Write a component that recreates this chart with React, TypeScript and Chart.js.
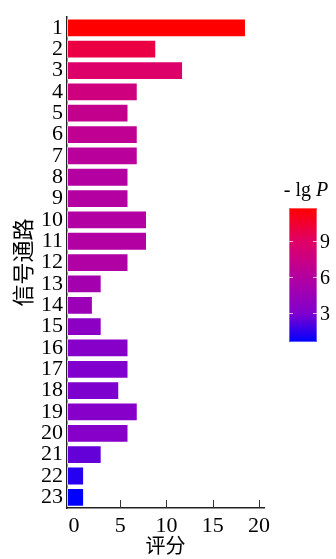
import React, { useEffect, useRef } from "react";
import { Chart, registerables } from "chart.js";

Chart.register(...registerables);

const categories = ["1","2","3","4","5","6","7","8","9","10","11","12","13","14","15","16","17","18","19","20","21","22","23"];
const scores = [18.6, 8.9, 11.8, 6.9, 5.9, 6.9, 6.9, 5.9, 5.9, 7.9, 7.9, 5.9, 3.0, 2.05, 3.0, 5.9, 5.9, 4.9, 6.9, 5.9, 3.0, 1.1, 1.1];
const negLgP = [11.7, 9.9, 8.7, 7.7, 7.0, 6.7, 6.3, 6.0, 6.0, 5.9, 5.9, 5.8, 5.1, 4.5, 3.6, 3.3, 3.0, 2.9, 3.3, 3.3, 2.45, 1.3, 0.6];
const xTicks = [0, 5, 10, 15, 20];
const colorbarTicks = [3, 6, 9];
const colorMin = 0.6;
const colorMax = 11.7;
const colorStops: [number, number[]][] = [
  [0.6, [0, 0, 255]],
  [3, [130, 0, 205]],
  [6, [180, 0, 160]],
  [9, [225, 0, 100]],
  [11.7, [255, 0, 0]],
];

const SERIF = "'Liberation Serif', 'Noto Sans CJK SC', serif";

function colorFor(v: number): string {
  if (v <= colorStops[0][0]) return `rgb(${colorStops[0][1].join(",")})`;
  for (let i = 1; i < colorStops.length; i++) {
    const [v1, c1] = colorStops[i];
    const [v0, c0] = colorStops[i - 1];
    if (v <= v1) {
      const t = (v - v0) / (v1 - v0);
      const c = c0.map((a, k) => Math.round(a + (c1[k] - a) * t));
      return `rgb(${c.join(",")})`;
    }
  }
  return `rgb(${colorStops[colorStops.length - 1][1].join(",")})`;
}

const overlayPlugin = {
  id: "overlay",
  afterDraw(chart: any) {
    const ctx = chart.ctx as CanvasRenderingContext2D;
    const xs = chart.scales.x;
    const area = chart.chartArea;
    ctx.save();
    // inward x ticks
    ctx.strokeStyle = "#333";
    ctx.lineWidth = 1;
    xs.ticks.forEach((t: any) => {
      if (t.value === 0) return;
      const px = Math.round(xs.getPixelForValue(t.value)) + 0.5;
      ctx.beginPath();
      ctx.moveTo(px, area.bottom);
      ctx.lineTo(px, area.bottom - 8);
      ctx.stroke();
    });
    // colorbar
    const cbL = 289, cbR = 317, cbT = 208, cbB = 342;
    const yFor = (v: number) => cbB - ((v - colorMin) / (colorMax - colorMin)) * (cbB - cbT);
    const grad = ctx.createLinearGradient(0, cbB, 0, cbT);
    colorStops.forEach(([v, c]) => {
      grad.addColorStop((v - colorMin) / (colorMax - colorMin), `rgb(${c.join(",")})`);
    });
    ctx.fillStyle = grad;
    ctx.fillRect(cbL, cbT, cbR - cbL, cbB - cbT);
    ctx.strokeStyle = "rgba(255,255,255,0.35)";
    ctx.strokeRect(cbL + 0.5, cbT + 0.5, cbR - cbL - 1, cbB - cbT - 1);
    ctx.strokeStyle = "rgba(255,220,235,0.8)";
    ctx.fillStyle = "#000";
    ctx.font = `20px ${SERIF}`;
    ctx.textAlign = "left";
    ctx.textBaseline = "middle";
    colorbarTicks.forEach((v) => {
      const y = Math.round(yFor(v)) + 0.5;
      ctx.beginPath();
      ctx.moveTo(cbL, y);
      ctx.lineTo(cbL + 4, y);
      ctx.moveTo(cbR - 4, y);
      ctx.lineTo(cbR, y);
      ctx.stroke();
      ctx.fillText(String(v), 320, y + 1);
    });
    // colorbar title "- lg P"
    ctx.textBaseline = "alphabetic";
    const part1 = "- lg ";
    ctx.font = `20px ${SERIF}`;
    const w1 = ctx.measureText(part1).width;
    ctx.font = `italic 20px ${SERIF}`;
    const w2 = ctx.measureText("P").width;
    const start = 306 - (w1 + w2) / 2;
    ctx.font = `20px ${SERIF}`;
    ctx.fillText(part1, start, 196);
    ctx.font = `italic 20px ${SERIF}`;
    ctx.fillText("P", start + w1, 196);
    ctx.restore();
  },
};

export default function App() {
  const ref = useRef<HTMLCanvasElement | null>(null);
  useEffect(() => {
    if (!ref.current) return;
    const chart = new Chart(ref.current, {
      type: "bar",
      data: {
        labels: categories,
        datasets: [
          {
            data: scores,
            base: -0.75,
            backgroundColor: negLgP.map(colorFor),
            borderColor: "rgba(255,255,255,0.55)",
            borderWidth: 1,
            borderSkipped: false,
            barPercentage: 0.88,
            categoryPercentage: 1,
          } as any,
        ],
      },
      options: {
        indexAxis: "y",
        animation: false,
        responsive: false,
        layout: { padding: { top: 10, right: 72, left: 0, bottom: 0 } },
        plugins: { legend: { display: false }, tooltip: { enabled: false } },
        scales: {
          x: {
            type: "linear",
            min: -0.75,
            max: 20.55,
            afterBuildTicks: (s: any) => {
              s.ticks = xTicks.map((v) => ({ value: v }));
            },
            afterFit: (s: any) => {
              s.height = 51;
            },
            grid: { display: false, drawTicks: false },
            border: { display: true, color: "#222", width: 1.5 },
            ticks: { color: "#000", font: { family: SERIF, size: 22 }, padding: 5, autoSkip: false, maxRotation: 0 },
            title: {
              display: true,
              text: "评分",
              color: "#000",
              font: { family: SERIF, size: 20, lineHeight: 1 },
              padding: { top: 0, bottom: 1 },
            },
          },
          y: {
            type: "category",
            afterFit: (s: any) => {
              s.width = 67;
            },
            grid: { display: false, drawTicks: false },
            border: { display: true, color: "#222", width: 1.5 },
            ticks: { color: "#000", font: { family: SERIF, size: 22 }, padding: 4, autoSkip: false },
            title: {
              display: true,
              text: "信号通路",
              color: "#000",
              font: { family: SERIF, size: 22, lineHeight: 1.2 },
              padding: { top: 12, bottom: 0 },
            },
          },
        },
      },
      plugins: [overlayPlugin],
    });
    return () => chart.destroy();
  }, []);
  return (
    <div style={{ position: "fixed", left: 0, top: 0, width: 336, height: 559, background: "#fff" }}>
      <canvas ref={ref} width={336} height={559} style={{ display: "block" }} />
    </div>
  );
}
